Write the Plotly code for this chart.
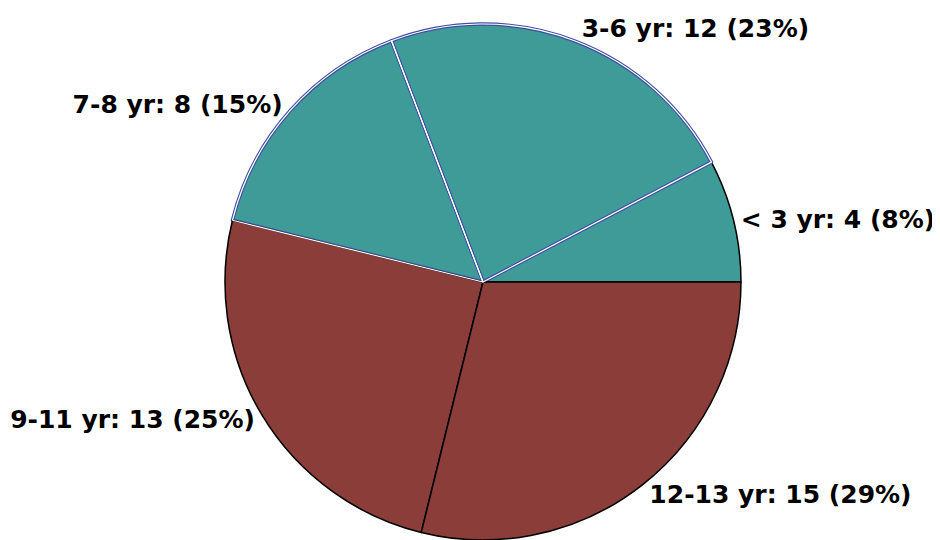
import plotly.graph_objects as go

labels = ["< 3 yr", "3-6 yr", "7-8 yr", "9-11 yr", "12-13 yr"]
values = [4, 12, 8, 13, 15]
colors = ["#3E9B98", "#3E9B98", "#3E9B98", "#8B3D3A", "#8B3D3A"]
line_colors = ["#000000", "#3F4FA0", "#3F4FA0", "#000000", "#000000"]
line_widths = [1.5, 3.5, 3.5, 1.5, 1.5]
inner_line_widths = [0, 1.2, 1.2, 0, 0]

first_share = values[0] / sum(values) * 360.0
dom = dict(x=[0.0191, 0.9915], y=[0, 1])

fig = go.Figure()
fig.add_trace(go.Pie(
    labels=labels,
    values=values,
    sort=False,
    direction="counterclockwise",
    rotation=90 - first_share,
    marker=dict(colors=colors, line=dict(color=line_colors, width=line_widths)),
    textposition="outside",
    texttemplate="%{label}: %{value} (%{percent:.0%})",
    textfont=dict(family="DejaVu Sans", size=25, color="#000000", weight="bold"),
    showlegend=False,
    automargin=False,
    domain=dom,
    hoverinfo="none",
))
fig.add_trace(go.Pie(
    labels=labels,
    values=values,
    sort=False,
    direction="counterclockwise",
    rotation=90 - first_share,
    marker=dict(colors=["rgba(0,0,0,0)"] * len(values),
                line=dict(color="#FFFFFF", width=inner_line_widths)),
    textinfo="none",
    showlegend=False,
    automargin=False,
    domain=dom,
    hoverinfo="none",
))

fig.update_layout(
    width=940, height=540,
    margin=dict(l=0, r=0, t=16, b=8),
    paper_bgcolor="white",
    plot_bgcolor="white",
)

fig.write_html("out.html")
